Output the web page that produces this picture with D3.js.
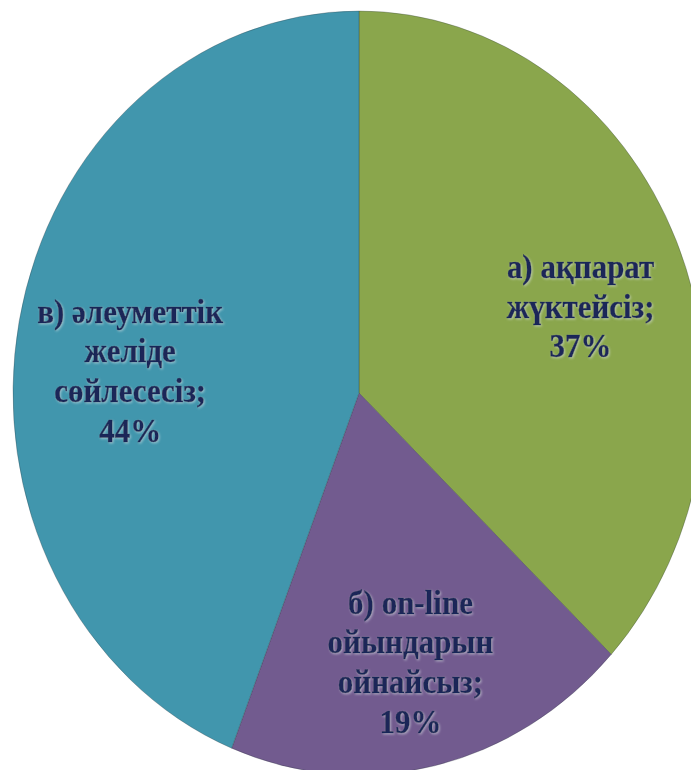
<!DOCTYPE html>
<html>
<head>
<meta charset="utf-8">
<script src="https://cdn.jsdelivr.net/npm/d3@7"></script>
<style>
  body { margin: 0; background: #fff; }
</style>
</head>
<body>
<div id="chart"></div>
<script>

// slice data, clockwise from 12 o'clock
const categories = ['а', 'б', 'в'];
const values = [37, 19, 44];
const labelLines = [
  ['а) ақпарат', 'жүктейсіз;', '37%'],
  ['б) on-line', 'ойындарын', 'ойнайсыз;', '19%'],
  ['в) әлеуметтік', 'желіде', 'сөйлесесіз;', '44%']
];
const colors = ['#8aa64c', '#725b8f', '#4196ad'];

PieChart = {

  svgSize: {width: 691, height: 770},
  center: {x: 359, y: 393},
  radius: 346,
  yStretch: 382 / 346,
  labelRadius: 236,
  lineHeight: 36,
  // small label shifts (screen px) so the text sits like the original
  labelNudge: [{dx: 5, dy: 16}, {dx: 0, dy: 14}, {dx: 3, dy: 26}],

  createSVG: function(){
    this.svg = d3.select('#chart').append('svg')
      .attr('width', this.svgSize.width)
      .attr('height', this.svgSize.height)

    this.svg.append('defs').append('filter')
      .attr('id', 'glow')
      .attr('x', '-10%').attr('y', '-10%').attr('width', '120%').attr('height', '120%')
      .append('feDropShadow')
      .attr('dx', 1).attr('dy', 1)
      .attr('stdDeviation', 0.8)
      .attr('flood-color', '#dfe6ea')
      .attr('flood-opacity', 0.55)
  },

  createContainer: function(){
    this.container = this.svg.append('g')
      .attr('transform', `translate(${this.center.x}, ${this.center.y}) scale(1, ${this.yStretch})`)
  },

  setupArcs: function(){
    this.pie = d3.pie().sort(null).value((d)=> d.value);
    this.arc = d3.arc().innerRadius(0).outerRadius(this.radius);
    this.labelArc = d3.arc().innerRadius(this.labelRadius).outerRadius(this.labelRadius);
  },

  createPaths: function(){
    this.arcs = this.container.selectAll('.slice')
      .data(this.pie(this.data))
      .enter()
      .append('g')
      .attr('class', 'slice')

    this.arcs.append('path')
      .attr('d', this.arc)
      .attr('fill', (d, i)=> colors[i])
      .attr('stroke', 'rgba(40,50,60,0.35)')
      .attr('stroke-width', 0.8)
  },

  createLabels: function(){
    const lh = this.lineHeight;
    this.arcs.append('text')
      .attr('font-family', 'Liberation Serif')
      .attr('font-weight', 'bold')
      .attr('font-size', 31)
      .attr('fill', '#1a2858')
      .attr('stroke', '#1a2858')
      .attr('stroke-width', 0.4)
      .attr('filter', 'url(#glow)')
      .attr('text-anchor', 'middle')
      .attr('transform', (d, i)=> {
        const [x, y] = this.labelArc.centroid(d);
        const n = this.labelNudge[i];
        return `translate(${x + n.dx}, ${y + n.dy / this.yStretch})`
      })
      .each(function(d){
        const lines = d.data.lines;
        const t = d3.select(this);
        lines.forEach((line, j)=>{
          t.append('tspan')
            .attr('x', 0)
            .attr('y', (j - (lines.length - 1) / 2) * lh)
            .attr('dy', '0.35em')
            .text(line)
        })
      })
  },

  loadChart: function(data){
    this.data = data;
    this.createSVG();
    this.createContainer();
    this.setupArcs();
    this.createPaths();
    this.createLabels();
  },

}

const data = categories.map((c, i)=> ({name: c, value: values[i], lines: labelLines[i]}));
PieChart.loadChart(data);

</script>
</body>
</html>
